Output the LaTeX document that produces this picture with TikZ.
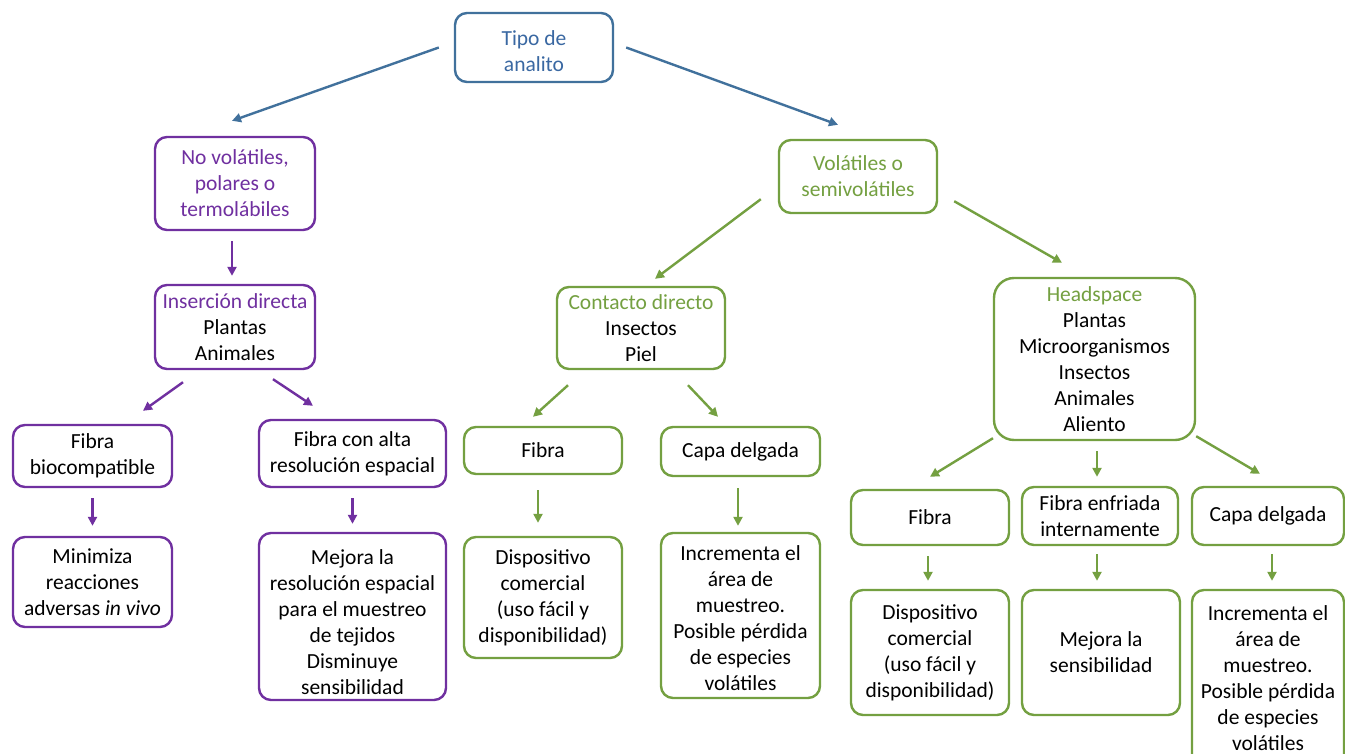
\documentclass[tikz,border=0pt]{standalone}
\usepackage{fontspec}
\setmainfont{Carlito}
\usetikzlibrary{arrows.meta}
\definecolor{cblue}{HTML}{41719C}
\definecolor{cbluetxt}{HTML}{3A68A2}
\definecolor{cpurple}{HTML}{7030A0}
\definecolor{cgreen}{HTML}{74A041}
\tikzset{
  box/.style={draw, line width=2.4pt, rounded corners=12pt, inner sep=0pt,
    align=center, font=\fontsize{21.5}{26}\selectfont, fill=white},
  bluebox/.style={box, draw=cblue, text=cbluetxt},
  purplebox/.style={box, draw=cpurple},
  greenbox/.style={box, draw=cgreen},
  arr/.style={line width=2.4pt, -{Triangle[length=9pt,width=9pt]}},
  bluearr/.style={arr, draw=cblue, fill=cblue},
  purplearr/.style={arr, draw=cpurple, fill=cpurple},
  greenarr/.style={arr, draw=cgreen, fill=cgreen},
}
\begin{document}
\begin{tikzpicture}[x=1pt,y=-1pt]
\clip (0,0) rectangle (1345,753);
\fill[white] (0,0) rectangle (1345,753);

% top level
\node[bluebox, minimum width=158pt, minimum height=69pt] (tipo) at (534,47.5) {\rule{0pt}{22pt}Tipo de\\analito};

% analyte classes
\node[purplebox, text=cpurple, minimum width=160pt, minimum height=93pt] (novol) at (235,183.5)
  {No volátiles,\\polares o\\termolábiles};
\node[greenbox, text=cgreen, minimum width=158pt, minimum height=73pt] (vol) at (858,176.5)
  {Volátiles o\\semivolátiles};

% sampling modes
\node[purplebox, minimum width=160pt, minimum height=84pt] (ins) at (235,327)
  {\textcolor{cpurple}{Inserción directa}\\Plantas\\Animales};
\node[greenbox, minimum width=168pt, minimum height=82pt] (cont) at (641,328)
  {\textcolor{cgreen}{Contacto directo}\\Insectos\\Piel};
\node[greenbox, rounded corners=20pt, minimum width=201pt, minimum height=162pt] (head) at (1094.5,359)
  {\textcolor{cgreen}{Headspace}\\Plantas\\Microorganismos\\Insectos\\Animales\\Aliento};

% devices
\node[purplebox, minimum width=159pt, minimum height=62pt] (fbio) at (92.5,456) {Fibra\\biocompatible};
\node[purplebox, minimum width=187pt, minimum height=67pt] (falta) at (352.5,453.5) {Fibra con alta\\resolución espacial};
\node[greenbox, minimum width=158pt, minimum height=47pt] (fibc) at (543,450.5) {Fibra};
\node[greenbox, minimum width=159pt, minimum height=49pt] (capc) at (740.5,451.5) {Capa delgada};
\node[greenbox, minimum width=158pt, minimum height=55pt] (fibh) at (930,517.5) {Fibra};
\node[greenbox, minimum width=156pt, minimum height=58pt] (fenf) at (1100,516) {Fibra enfriada\\internamente};
\node[greenbox, minimum width=152pt, minimum height=58pt] (caph) at (1268,516) {Capa delgada};

% outcomes
\node[purplebox, minimum width=159pt, minimum height=90pt] (mini) at (92.5,582)
  {Minimiza\\reacciones\\adversas \textit{in vivo}};
\node[purplebox, minimum width=187pt, minimum height=167pt] (mejr) at (352.5,616.5)
  {\rule{0pt}{27pt}Mejora la\\resolución espacial\\para el muestreo\\de tejidos\\Disminuye\\sensibilidad};
\node[greenbox, minimum width=158pt, minimum height=121pt] (dispc) at (543,597.5)
  {Dispositivo\\comercial\\(uso fácil y\\disponibilidad)};
\node[greenbox, minimum width=159pt, minimum height=165pt] (incc) at (740.5,615.5)
  {\rule{0pt}{21pt}Incrementa el\\área de\\muestreo.\\Posible pérdida\\de especies\\volátiles};
\node[greenbox, minimum width=158pt, minimum height=125pt] (disph) at (930,652.5)
  {Dispositivo\\comercial\\(uso fácil y\\disponibilidad)};
\node[greenbox, minimum width=158pt, minimum height=125pt] (mejs) at (1101,652.5)
  {Mejora la\\sensibilidad};
\node[greenbox, minimum width=152pt, minimum height=176pt] (inch) at (1268,678)
  {Incrementa el\\área de\\muestreo.\\Posible pérdida\\de especies\\volátiles};

% connectors
\draw[bluearr] ([xshift=-15pt]tipo.west) -- ([xshift=-3pt,yshift=15pt]novol.north);
\draw[bluearr] ([xshift=12pt]tipo.east) -- ([xshift=-20pt,yshift=14pt]vol.north);

\draw[greenarr] ([xshift=-17pt,yshift=15pt]vol.south west) -- ([xshift=14pt,yshift=7pt]cont.north);
\draw[greenarr] ([xshift=16pt,yshift=13pt]vol.south east) -- ([xshift=-32.5pt,yshift=14pt]head.north);

\draw[purplearr] ([xshift=-3pt,yshift=-10pt]novol.south) -- ([xshift=-3pt,yshift=8pt]ins.north);
\draw[purplearr] ([xshift=-52pt,yshift=-12pt]ins.south) -- ([xshift=50.5pt,yshift=13pt]fbio.north);
\draw[purplearr] ([xshift=38pt,yshift=-9pt]ins.south) -- ([xshift=-39.5pt,yshift=13pt]falta.north);

\draw[greenarr] ([xshift=-73pt,yshift=-15pt]cont.south) -- ([xshift=-10pt,yshift=9pt]fibc.north);
\draw[greenarr] ([xshift=47pt,yshift=-15pt]cont.south) -- ([xshift=-22.5pt,yshift=9pt]capc.north);

\draw[greenarr] ([xshift=-101.5pt,yshift=3pt]head.south) -- ([yshift=12pt]fibh.north);
\draw[greenarr] ([xshift=2.5pt,yshift=-10pt]head.south) -- ([xshift=-3pt,yshift=9pt]fenf.north);
\draw[greenarr] ([yshift=5pt]head.south east) -- ([xshift=-8pt,yshift=12pt]caph.north);

\draw[purplearr] ([yshift=-10pt]fbio.south) -- ([yshift=10pt]mini.north);
\draw[purplearr] ([yshift=-10pt]falta.south) -- ([yshift=8pt]mejr.north);
\draw[greenarr] ([xshift=-5pt,yshift=-15pt]fibc.south) -- ([xshift=-5pt,yshift=13pt]dispc.north);
\draw[greenarr] ([xshift=-2.5pt,yshift=-11pt]capc.south) -- ([xshift=-2.5pt,yshift=6pt]incc.north);
\draw[greenarr] ([xshift=-2pt,yshift=-10pt]fibh.south) -- ([xshift=-2pt,yshift=8pt]disph.north);
\draw[greenarr] ([xshift=-3pt,yshift=-8pt]fenf.south) -- ([xshift=-4pt,yshift=8pt]mejs.north);
\draw[greenarr] ([xshift=4pt,yshift=-8pt]caph.south) -- ([xshift=4pt,yshift=8pt]inch.north);
\end{tikzpicture}
\end{document}
